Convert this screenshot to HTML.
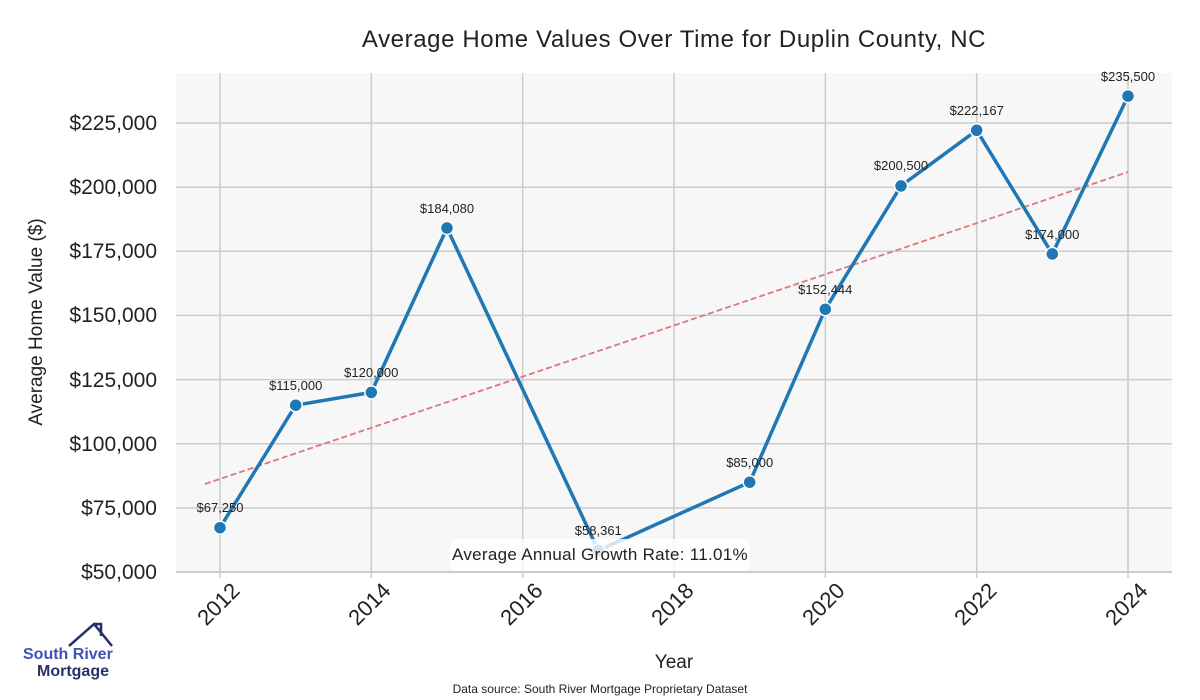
<!DOCTYPE html>
<html><head><meta charset="utf-8"><style>body{margin:0;background:#fff}svg{display:block}</style></head><body>
<svg width="1200" height="700" xmlns="http://www.w3.org/2000/svg" font-family="Liberation Sans, sans-serif">
<text x="674" y="47" text-anchor="middle" font-size="24" letter-spacing="0.6" fill="#222">Average Home Values Over Time for Duplin County, NC</text>
<rect x="176" y="73" width="996" height="499" fill="#f7f7f7"/>
<g stroke="#cccccc" stroke-width="1.5">
<line x1="176" x2="1172" y1="507.9" y2="507.9"/><line x1="176" x2="1172" y1="443.7" y2="443.7"/><line x1="176" x2="1172" y1="379.6" y2="379.6"/><line x1="176" x2="1172" y1="315.4" y2="315.4"/><line x1="176" x2="1172" y1="251.3" y2="251.3"/><line x1="176" x2="1172" y1="187.2" y2="187.2"/><line x1="176" x2="1172" y1="123" y2="123"/>
<line y1="73" y2="578" x1="220" x2="220"/><line y1="73" y2="578" x1="371.3" x2="371.3"/><line y1="73" y2="578" x1="522.7" x2="522.7"/><line y1="73" y2="578" x1="674" x2="674"/><line y1="73" y2="578" x1="825.3" x2="825.3"/><line y1="73" y2="578" x1="976.7" x2="976.7"/><line y1="73" y2="578" x1="1128" x2="1128"/>
<line x1="176" x2="1172" y1="572" y2="572" stroke-width="2"/>
</g>
<g font-size="21" fill="#222" text-anchor="end">
<text x="157" y="579">$50,000</text><text x="157" y="515">$75,000</text><text x="157" y="451">$100,000</text><text x="157" y="387">$125,000</text><text x="157" y="322">$150,000</text><text x="157" y="258">$175,000</text><text x="157" y="194">$200,000</text><text x="157" y="130">$225,000</text>
</g>
<g font-size="22" fill="#222" text-anchor="end">
<text transform="translate(241,592) rotate(-45)">2012</text><text transform="translate(392,592) rotate(-45)">2014</text><text transform="translate(544,592) rotate(-45)">2016</text><text transform="translate(695,592) rotate(-45)">2018</text><text transform="translate(846,592) rotate(-45)">2020</text><text transform="translate(998,592) rotate(-45)">2022</text><text transform="translate(1149,592) rotate(-45)">2024</text>
</g>
<text x="674" y="668" text-anchor="middle" font-size="19" fill="#222">Year</text>
<text transform="translate(42,322) rotate(-90)" text-anchor="middle" font-size="19" fill="#222">Average Home Value ($)</text>
<line x1="205" y1="484" x2="1128" y2="172" stroke="#d9797b" stroke-width="1.8" stroke-dasharray="6,3"/>
<polyline fill="none" stroke="#1f77b4" stroke-width="3.5" stroke-linejoin="round" points="220,527.7 295.7,405.2 371.3,392.4 447,228 598.3,550.5 749.7,482.2 825.3,309.2 901,185.9 976.7,130.3 1052.3,253.9 1128,96.1"/>
<g fill="#1f77b4" stroke="#fff" stroke-width="1.5">
<circle cx="220" cy="527.7" r="6.5"/><circle cx="295.7" cy="405.2" r="6.5"/><circle cx="371.3" cy="392.4" r="6.5"/><circle cx="447" cy="228" r="6.5"/><circle cx="598.3" cy="550.5" r="6.5"/><circle cx="749.7" cy="482.2" r="6.5"/><circle cx="825.3" cy="309.2" r="6.5"/><circle cx="901" cy="185.9" r="6.5"/><circle cx="976.7" cy="130.3" r="6.5"/><circle cx="1052.3" cy="253.9" r="6.5"/><circle cx="1128" cy="96.1" r="6.5"/>
</g>
<g font-size="13" fill="#222" text-anchor="middle">
<text x="220" y="512">$67,250</text><text x="295.7" y="390">$115,000</text><text x="371.3" y="377">$120,000</text><text x="447" y="213">$184,080</text><text x="598.3" y="535">$58,361</text><text x="749.7" y="467">$85,000</text><text x="825.3" y="294">$152,444</text><text x="901" y="170">$200,500</text><text x="976.7" y="115">$222,167</text><text x="1052.3" y="239">$174,000</text><text x="1128" y="81">$235,500</text>
</g>
<rect x="450" y="539" width="300" height="32" rx="7" fill="#fff" fill-opacity="0.8"/>
<text x="600" y="560" text-anchor="middle" font-size="17" letter-spacing="0.3" fill="#222">Average Annual Growth Rate: 11.01%</text>
<text x="600" y="693" text-anchor="middle" font-size="12" fill="#222">Data source: South River Mortgage Proprietary Dataset</text>
<polyline points="69,646 94,624 112,646" fill="none" stroke="#28306a" stroke-width="2.5"/>
<polyline points="96,626 96,624 101,624 101,636" fill="none" stroke="#28306a" stroke-width="2.5"/>
<text x="23" y="659" font-size="16" font-weight="bold" fill="#3f51b5">South River</text>
<text x="37" y="676" font-size="16" font-weight="bold" fill="#28306a">Mortgage</text>
</svg>
</body></html>
